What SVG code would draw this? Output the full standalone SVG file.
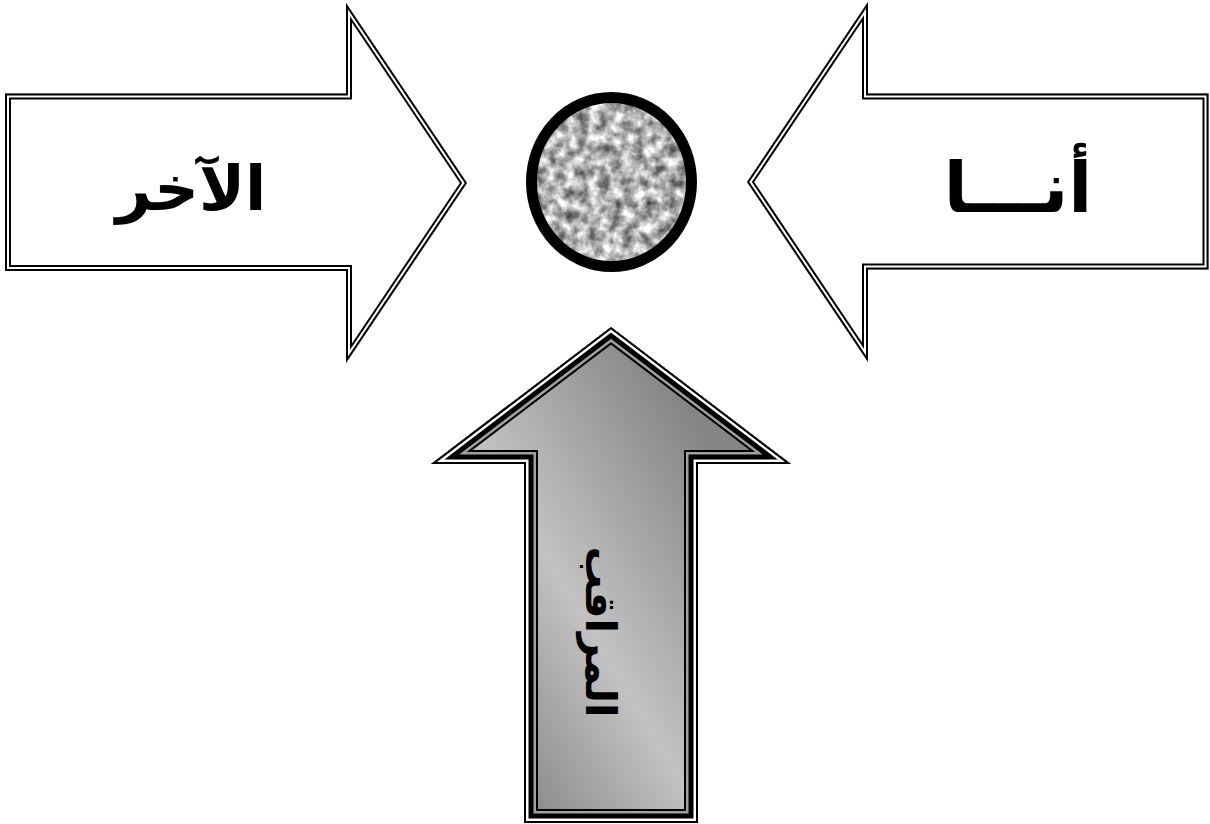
<svg xmlns="http://www.w3.org/2000/svg" width="1210" height="824" viewBox="0 0 1210 824">
<style>
.lbl{font-family:"DejaVu Sans","Noto Sans",sans-serif;font-weight:bold;fill:#000;text-anchor:middle}
.s{fill:none;stroke-linejoin:miter;stroke-miterlimit:10}
.k12{stroke:#000;stroke-width:12}
.w8{stroke:#fff;stroke-width:8}
.k4{stroke:#000;stroke-width:4}
.k28{stroke:#000;stroke-width:28}
.g24{stroke:#a0a0a0;stroke-width:24}
.k19{stroke:#000;stroke-width:19}
.w9{stroke:#fff;stroke-width:9}
</style>
<defs>
<path id="pL" d="M5,93.5 H346 V3 L467,183 L346,363 V271 H5 Z"/>
<path id="pR" d="M1208.5,93.5 H868 V2 L747,182 L868,362 V269.5 H1208.5 Z"/>
<path id="pB" d="M611,327 L791,464 H698 V823 H524 V464 H431 Z"/>
<clipPath id="cL"><use href="#pL"/></clipPath>
<clipPath id="cR"><use href="#pR"/></clipPath>
<clipPath id="cB"><use href="#pB"/></clipPath>
<linearGradient id="gB" gradientUnits="userSpaceOnUse" x1="448" y1="707" x2="757" y2="522">
<stop offset="0" stop-color="#858585"/>
<stop offset="0.45" stop-color="#c2c2c2"/>
<stop offset="1" stop-color="#858585"/>
</linearGradient>
<filter id="tex" color-interpolation-filters="sRGB">
<feTurbulence type="fractalNoise" baseFrequency="0.09" numOctaves="3" seed="3" result="n"/>
<feColorMatrix in="n" type="matrix" values="1.15 0 0 0 0.12  1.15 0 0 0 0.12  1.15 0 0 0 0.12  0 0 0 0 1" result="g"/>
<feComposite in="g" in2="SourceGraphic" operator="in"/>
</filter>
</defs>
<g id="node-left">
<use href="#pL" fill="#fff"/>
<g clip-path="url(#cL)">
<use href="#pL" class="s k12"/><use href="#pL" class="s w8"/><use href="#pL" class="s k4"/>
</g>
<text class="lbl" x="191" y="210" font-size="62">الآخر</text>
</g>
<g id="node-right">
<use href="#pR" fill="#fff"/>
<g clip-path="url(#cR)">
<use href="#pR" class="s k12"/><use href="#pR" class="s w8"/><use href="#pR" class="s k4"/>
</g>
<text class="lbl" x="1018" y="212" font-size="70">أنـــا</text>
</g>
<g id="node-center">
<ellipse cx="611.5" cy="182" rx="80" ry="84.5" fill="#a8a8a8" filter="url(#tex)"/>
<ellipse cx="611.5" cy="182" rx="80" ry="84.5" fill="none" stroke="#000" stroke-width="11"/>
</g>
<g id="node-bottom">
<use href="#pB" fill="url(#gB)"/>
<g clip-path="url(#cB)">
<use href="#pB" class="s k28"/><use href="#pB" class="s g24"/><use href="#pB" class="s k19"/><use href="#pB" class="s w9"/><use href="#pB" class="s k4"/>
</g>
<text class="lbl" transform="translate(586,632) rotate(90)" x="0" y="0" font-size="42">المراقب</text>
</g>
<g id="connectors"></g>
</svg>
